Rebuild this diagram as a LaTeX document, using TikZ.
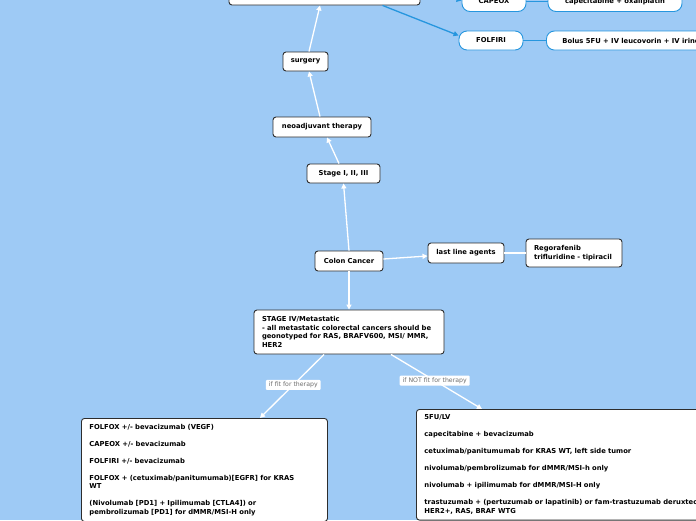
\documentclass[tikz,border=0pt]{standalone}
\usepackage{fontspec}
\setmainfont{DejaVu Sans}
\usetikzlibrary{arrows.meta,calc}
\definecolor{bg}{RGB}{158,202,245}
\definecolor{mblue}{RGB}{38,150,222}
\definecolor{bordr}{RGB}{45,45,45}
\definecolor{labgray}{RGB}{110,110,110}
\begin{document}
\begin{tikzpicture}[x=1pt,y=-1pt,
  box/.style={draw=bordr, line width=0.9pt, fill=white, rounded corners=3pt,
    font=\fontsize{6.8}{8.7}\selectfont\bfseries, inner sep=0pt, align=center},
  bbox/.style={draw=mblue, line width=0.9pt, fill=white, rounded corners=8pt,
    font=\fontsize{6.8}{8.7}\selectfont\bfseries, inner sep=0pt, align=center},
  bigbox/.style={draw=bordr, line width=0.9pt, fill=white, rounded corners=3pt,
    font=\fontsize{6.8}{8.7}\selectfont\bfseries, inner xsep=8pt, inner ysep=5.5pt, align=left, anchor=north west},
  warrow/.style={draw=white, line width=1.3pt, -{Triangle[length=5pt,width=5pt]}},
  wline/.style={draw=white, line width=1.3pt},
  barrow/.style={draw=mblue, line width=1.3pt, -{Triangle[length=5pt,width=5pt]}},
  bline/.style={draw=mblue, line width=1.3pt},
  lab/.style={fill=white, rounded corners=1pt, text=labgray,
    font=\fontsize{6.2}{7}\selectfont, inner xsep=3pt, inner ysep=2pt}
]
\useasboundingbox (0,0) rectangle (696,520);
\fill[bg] (0,0) rectangle (696,520);
\clip (0,0) rectangle (696,520);

% top row
\node[box, minimum width=191pt, minimum height=24pt] (top) at (324.5,-7) {};
\node[bbox, minimum width=64pt, minimum height=20pt] (capeox) at (494,1.5) {CAPEOX};
\node[bbox, minimum width=134pt, minimum height=20pt] (capox) at (615,1.5) {capecitabine + oxaliplatin};
\node[bbox, minimum width=64pt, minimum height=19pt] (folfiri) at (491,40.5) {FOLFIRI};
\node[bbox, anchor=west, inner xsep=16pt, minimum height=19pt] (bolus) at (546,40.5) {Bolus 5FU + IV leucovorin + IV irinotecan};

% chain
\node[box, minimum width=45pt, minimum height=19pt] (surgery) at (305.5,61.5) {surgery};
\node[box, minimum width=98pt, minimum height=20pt] (neo) at (322,127) {neoadjuvant therapy};
\node[box, minimum width=73pt, minimum height=19pt] (stage) at (343.5,173.5) {Stage I, II, III};
\node[box, minimum width=68pt, minimum height=20pt] (colon) at (349,261) {Colon Cancer};
\node[box, minimum width=76pt, minimum height=20pt] (last) at (466,253) {last line agents};
\node[box, text width=80pt, inner xsep=8pt, minimum height=28pt, align=left] (rego) at (574,253) {Regorafenib\\\mbox{trifluridine - tipiracil}};
\node[box, text width=174pt, inner xsep=8pt, minimum height=44pt, align=left] (stage4) at (349,332) {STAGE IV/Metastatic\\\mbox{- all metastatic colorectal cancers should be}\\\mbox{geonotyped for RAS, BRAFV600, MSI/ MMR,}\\HER2};

% big boxes
\node[bigbox, text width=230pt] (fit) at (81,418) {FOLFOX +/- bevacizumab (VEGF)\\[8.3pt]
CAPEOX +/- bevacizumab\\[8.3pt]
FOLFIRI +/- bevacizumab\\[8.3pt]
\mbox{FOLFOX + (cetuximab/panitumumab)[EGFR] for KRAS}\\WT\\[8.3pt]
(Nivolumab [PD1] + Ipilimumab [CTLA4]) or\\pembrolizumab [PD1] for dMMR/MSI-H only};
\node[bigbox, text width=340pt] (notfit) at (416,409) {5FU/LV\\[8.3pt]
capecitabine + bevacizumab\\[8.3pt]
cetuximab/panitumumab for KRAS WT, left side tumor\\[8.3pt]
nivolumab/pembrolizumab for dMMR/MSI-h only\\[8.3pt]
nivolumab + ipilimumab for dMMR/MSI-H only\\[8.3pt]
trastuzumab + (pertuzumab or lapatinib) or fam-trastuzumab deruxtecan\\HER2+, RAS, BRAF WTG};

% connectors
\draw[warrow] (colon.north) -- (stage.south);
\draw[warrow] ([xshift=-4.5pt]stage.north) -- ([xshift=5pt]neo.south);
\draw[warrow] ([xshift=-2pt]neo.north) -- ([xshift=3.5pt]surgery.south);
\draw[warrow] ([xshift=3.5pt]surgery.north) -- ([xshift=-4.5pt]top.south);
\draw[barrow] ([yshift=2pt]top.east) -- ([yshift=1pt]capeox.west);
\draw[barrow] ([xshift=58pt]top.south) -- ([yshift=5pt]folfiri.west);
\draw[bline] (capeox.east) -- (capox.west);
\draw[bline] (folfiri.east) -- (bolus.west);
\draw[warrow] ([yshift=2pt]colon.east) -- ([yshift=-3pt]last.west);
\draw[wline] (last.east) -- (rego.west);
\draw[warrow] (colon.south) -- (stage4.north);
\draw[warrow] ([xshift=-25pt]stage4.south) -- node[lab, pos=0.48] (l1) {if fit for therapy} ([xshift=179pt]fit.north west);
\draw[warrow] ([xshift=42pt]stage4.south) -- node[lab, pos=0.48] (l2) {if NOT fit for therapy} ([xshift=66pt]notfit.north west);
\end{tikzpicture}
\end{document}
